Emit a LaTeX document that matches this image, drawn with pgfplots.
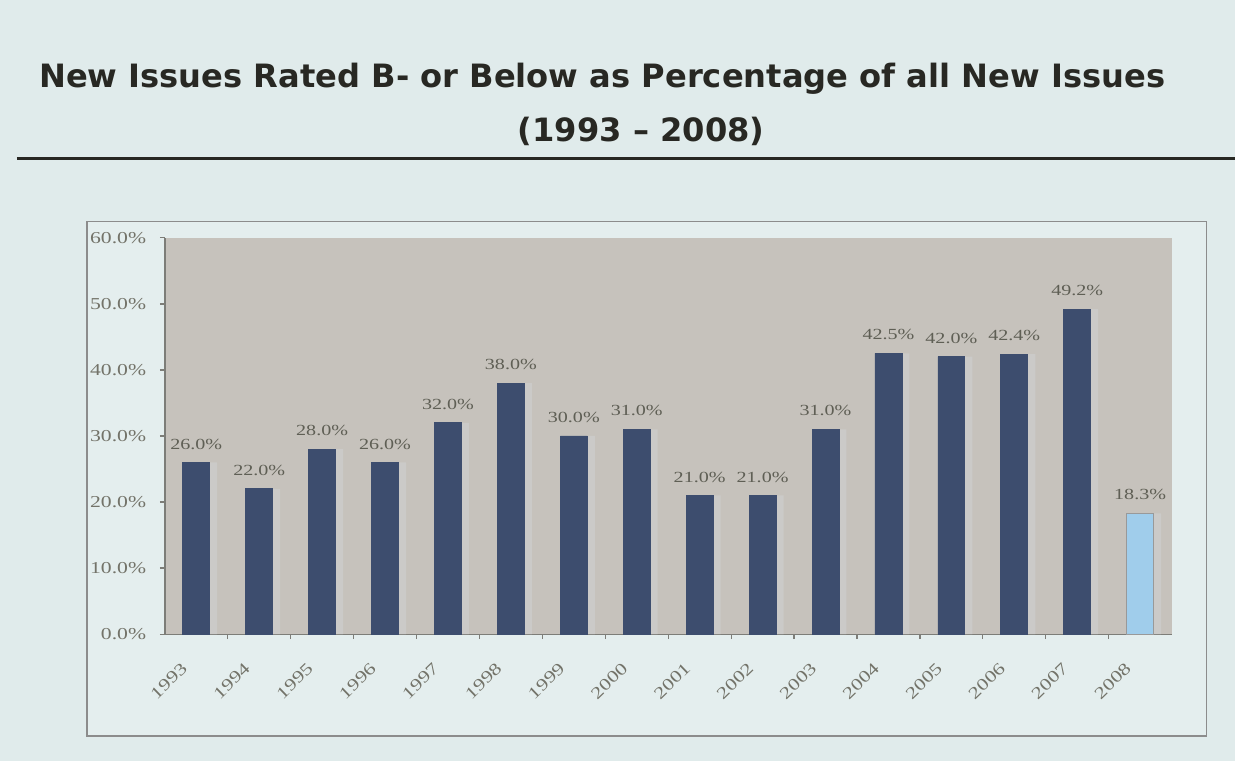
\documentclass[border=0pt]{standalone}
\usepackage{fontspec}
\setmainfont{Liberation Serif}
\newfontfamily\titlefont{DejaVu Sans}
\newfontfamily\tickfont{Liberation Serif}[FakeStretch=1.3]
\usepackage{pgfplots}
\pgfplotsset{compat=1.18}

\definecolor{slidebg}{RGB}{224,235,235}
\definecolor{framebg}{RGB}{228,238,238}
\definecolor{framecol}{RGB}{140,140,140}
\definecolor{plotbg}{RGB}{198,194,188}
\definecolor{shadowgray}{RGB}{203,202,200}
\definecolor{axisgray}{RGB}{125,125,120}
\definecolor{tickgray}{RGB}{115,115,105}
\definecolor{valgray}{RGB}{95,95,85}
\definecolor{barnavy}{RGB}{61,77,110}
\definecolor{barlight}{RGB}{160,205,235}
\definecolor{titlecol}{RGB}{40,40,35}

\begin{document}
\begin{tikzpicture}[x=1cm,y=1cm]
% fond de la diapo (1px = 0.02cm)
\fill[slidebg] (0,0) rectangle (24.72,15.24);
\node[anchor=base, text=titlecol, font=\titlefont\bfseries\fontsize{18.3}{20}\selectfont]
  at (12.06,13.48) {New Issues Rated B- or Below as Percentage of all New Issues};
\node[anchor=base, text=titlecol, font=\titlefont\bfseries\fontsize{18.3}{20}\selectfont]
  at (12.84,12.4) {(1993 – 2008)};
\draw[titlecol, line width=0.06cm] (0.34,12.06) -- (24.72,12.06);
% cadre du graphique
\draw[framecol, line width=0.7pt, fill=framebg] (1.74,0.5) rectangle (24.16,10.8);

\begin{axis}[
  at={(3.3cm,2.54cm)}, anchor=south west,
  scale only axis, width=20.16cm, height=7.94cm,
  ybar, bar width=0.54cm,
  xmin=-0.5, xmax=15.5, ymin=0, ymax=60,
  axis x line*=bottom, axis y line*=left,
  axis line style={draw=axisgray, line width=0.8pt, -},
  axis background/.style={fill=plotbg},
  /pgf/number format/assume math mode=true,
  ytick={0,10,...,60},
  yticklabel={\pgfmathprintnumber[fixed,fixed zerofill,precision=1]{\tick}\%},
  yticklabel style={font=\tickfont\fontsize{9.5}{10}\selectfont, text=tickgray, xshift=-0.15cm},
  tick align=outside,
  major tick length=0.1cm, minor tick length=0.1cm,
  ytick style={draw=axisgray, line width=0.8pt},
  xtick={0,...,15},
  xticklabels={1993,1994,1995,1996,1997,1998,1999,2000,2001,2002,2003,2004,2005,2006,2007,2008},
  minor x tick num=1,
  major x tick style={draw=none},
  minor x tick style={draw=axisgray, line width=0.7pt},
  xticklabel style={font=\tickfont\fontsize{9.5}{10}\selectfont, text=tickgray,
    xshift=-0.15cm, yshift=-0.45cm, rotate=44, anchor=east},
  nodes near coords style={font=\tickfont\fontsize{8.8}{10}\selectfont, text=valgray, yshift=0.14cm},
  clip=false,
]
% ombre des barres
\addplot[fill=shadowgray, draw=none, bar shift=0.15cm, forget plot] coordinates {
  (0,26.0) (1,22.0) (2,28.0) (3,26.0) (4,32.0) (5,38.0) (6,30.0) (7,31.0)
  (8,21.0) (9,21.0) (10,31.0) (11,42.5) (12,42.0) (13,42.4) (14,49.2) (15,18.3)
};
\addplot[fill=barnavy, draw=barnavy, bar shift=0pt,
  nodes near coords={\pgfmathprintnumber[fixed,fixed zerofill,precision=1]{\pgfplotspointmeta}\%}]
  coordinates {
  (0,26.0) (1,22.0) (2,28.0) (3,26.0) (4,32.0) (5,38.0) (6,30.0) (7,31.0)
  (8,21.0) (9,21.0) (10,31.0) (11,42.5) (12,42.0) (13,42.4) (14,49.2)
};
\addplot[fill=barlight, draw=gray!80, line width=0.8pt, bar shift=0pt,
  nodes near coords={\pgfmathprintnumber[fixed,fixed zerofill,precision=1]{\pgfplotspointmeta}\%}]
  coordinates {
  (15,18.3)
};
\end{axis}
\end{tikzpicture}
\end{document}
